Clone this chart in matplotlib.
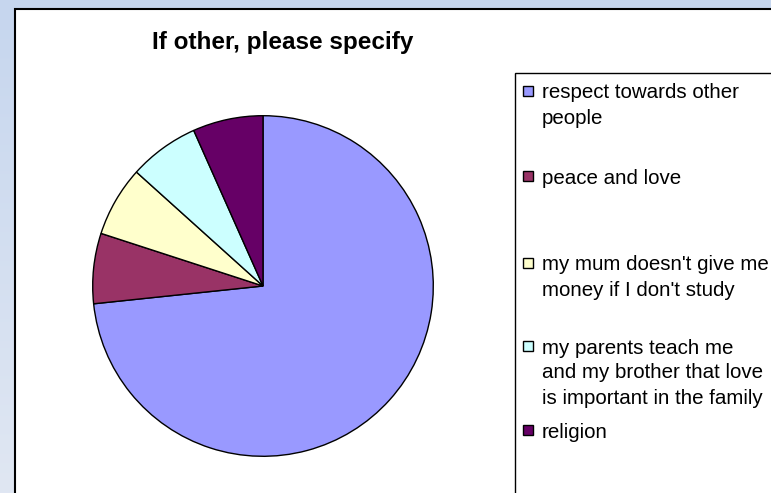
import matplotlib
matplotlib.use("Agg")
import matplotlib.pyplot as plt
import numpy as np
from matplotlib.patches import Rectangle
from matplotlib.colors import LinearSegmentedColormap

plt.rcParams['font.family'] = ['Liberation Sans', 'DejaVu Sans']

title = "If other, please specify"
categories = [
    "respect towards other\npeople",
    "peace and love",
    "my mum doesn't give me\nmoney if I don't study",
    "my parents teach me\nand my brother that love\nis important in the family",
    "religion",
]
values = [11, 1, 1, 1, 1]
colors = ["#9999ff", "#993366", "#ffffcc", "#ccffff", "#660066"]

W, H = 771, 493
fig = plt.figure(figsize=(W / 100, H / 100), dpi=100)

# background gradient
bg = fig.add_axes([0, 0, 1, 1])
grad = np.linspace(0, 1, 256).reshape(-1, 1)
cmap = LinearSegmentedColormap.from_list("bg", ["#c6d6ee", "#e0e7f3"])
bg.imshow(grad, aspect="auto", cmap=cmap, extent=[0, W, H, 0])
bg.set_xlim(0, W)
bg.set_ylim(H, 0)
bg.axis("off")

# chart area
bg.add_patch(Rectangle((15, 9), W + 20, H + 20, facecolor="white",
                       edgecolor="black", linewidth=1.5, zorder=2))
# legend box
bg.add_patch(Rectangle((515, 73), W + 20, H + 20, facecolor="white",
                       edgecolor="black", linewidth=1.0, zorder=3))

bg.text(283, 43, title, fontsize=17.5, fontweight="bold", ha="center",
        va="center", zorder=4)

# legend entries
entry_y = [91, 176, 263, 346, 430]
line_h = 25
for lab, col, y in zip(categories, colors, entry_y):
    bg.add_patch(Rectangle((523, y - 5), 10, 10, facecolor=col,
                           edgecolor="black", linewidth=1.0, zorder=4))
    for i, line in enumerate(lab.split("\n")):
        bg.text(542, y + 2 + i * line_h, line, fontsize=14.8, ha="left",
                va="center", zorder=4)

# pie
cx, cy, r = 263, 286, 172
ax = fig.add_axes([(cx - r) / W, (H - cy - r) / H, 2 * r / W, 2 * r / H])
ax.pie(values, colors=colors, startangle=90, counterclock=False, radius=1,
       wedgeprops=dict(edgecolor="black", linewidth=1.0))
ax.set_xlim(-1.01, 1.01)
ax.set_ylim(-1.01, 1.01)
ax.set_aspect("equal")
ax.axis("off")

fig.savefig("out.png", dpi=100)
